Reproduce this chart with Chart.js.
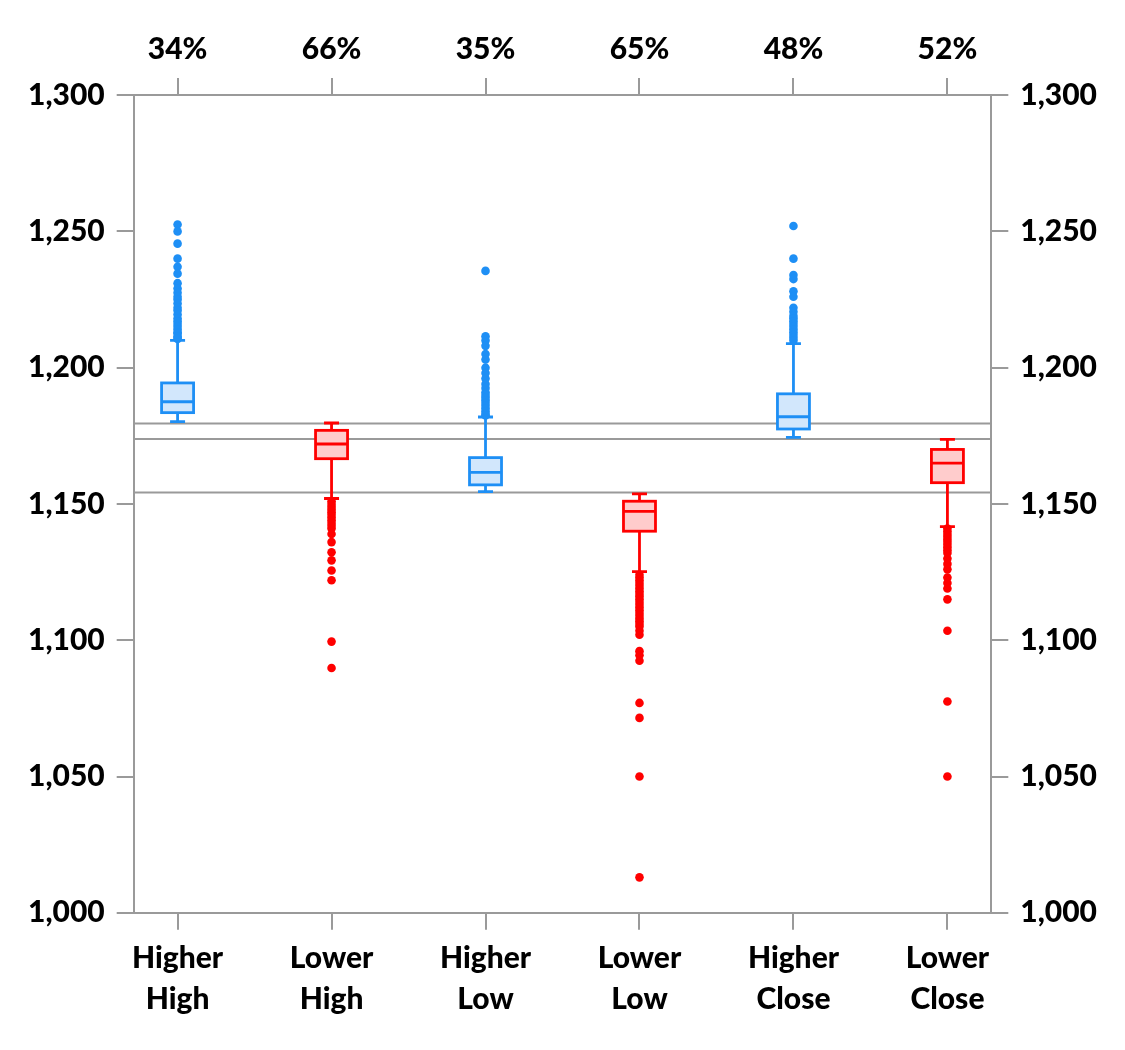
<!DOCTYPE html>
<html>
<head>
<meta charset="utf-8">
<script src="https://cdn.jsdelivr.net/npm/chart.js@4/dist/chart.umd.min.js"></script>
<style>
  body { margin: 0; background: #fff; }
  #wrap { width: 1125px; height: 1050px; }
</style>
</head>
<body>
<div id="wrap"><canvas id="chart_box"></canvas></div>
<script>
var categories = [["Higher", "High"], ["Lower", "High"], ["Higher", "Low"], ["Lower", "Low"], ["Higher", "Close"], ["Lower", "Close"]];
var shares = ["34%", "66%", "35%", "65%", "48%", "52%"];

// box statistics per category
var whiskerLow  = [1180.2, 1152.0, 1154.5, 1125.2, 1174.4, 1141.7];
var q1          = [1183.5, 1166.6, 1157.0, 1140.0, 1177.5, 1157.8];
var median      = [1187.5, 1172.0, 1161.6, 1147.3, 1182.0, 1165.0];
var q3          = [1194.4, 1177.0, 1167.0, 1151.0, 1190.4, 1170.0];
var whiskerHigh = [1210.0, 1179.7, 1181.9, 1153.7, 1208.8, 1173.7];

var outliers = [
  [1252.5, 1250, 1245.5, 1240, 1237, 1234.5, 1231, 1229, 1227.5, 1226, 1225, 1223.5, 1222, 1221, 1219.5, 1218, 1217, 1216, 1215, 1214, 1213, 1212.5, 1211.5, 1211, 1210.5],
  [1151, 1150, 1149, 1148, 1147, 1146, 1145, 1144, 1143, 1142, 1141, 1139, 1136, 1132.3, 1129.3, 1125.6, 1122, 1099.5, 1089.8],
  [1235.5, 1211.5, 1210, 1208, 1205, 1203, 1200, 1198, 1196, 1194, 1192.5, 1191, 1190, 1189, 1188, 1187, 1186, 1185, 1184, 1183, 1182.5],
  [1124, 1123, 1122, 1121, 1120, 1119, 1118, 1117, 1116, 1115, 1114, 1113, 1112, 1111, 1110, 1109, 1108, 1107, 1106, 1105, 1103.5, 1102, 1096, 1094.5, 1092.5, 1077, 1071.5, 1050, 1013],
  [1252, 1240, 1234, 1232.5, 1228, 1226, 1222, 1220.5, 1219, 1218, 1217, 1216, 1215, 1214, 1213, 1212, 1211, 1210],
  [1141, 1140, 1139, 1138, 1137, 1136, 1135, 1134, 1133, 1132, 1130, 1128, 1126, 1123, 1121, 1119, 1115, 1103.5, 1077.5, 1050]
];

// previous high / close / low reference levels
var refLines = [1179.5, 1173.8, 1154.2];

var yTicks = [1000, 1050, 1100, 1150, 1200, 1250, 1300];

const BLUE = "#1e8ff5", BLUE_FILL = "#d2e7fc";
const RED = "#ff0000", RED_FILL = "#ffcccc";
const GRAY = "#9a9a9a";
const colorOf = (i) => i % 2 === 0 ? BLUE : RED;
const fillOf = (i) => i % 2 === 0 ? BLUE_FILL : RED_FILL;

const pointsFor = (parity) => {
  var pts = [];
  outliers.forEach((list, i) => {
    if (i % 2 !== parity) return;
    list.forEach(v => pts.push({ x: i, y: v }));
  });
  return pts;
};

const boxPlugin = {
  id: "boxes",
  beforeDatasetsDraw(chart) {
    const ctx = chart.ctx, area = chart.chartArea;
    const x = chart.scales.x, y = chart.scales.y;
    ctx.save();
    ctx.strokeStyle = GRAY;
    ctx.lineWidth = 2;
    refLines.forEach(v => {
      var py = y.getPixelForValue(v);
      ctx.beginPath();
      ctx.moveTo(area.left, py);
      ctx.lineTo(area.right, py);
      ctx.stroke();
    });
    categories.forEach((c, i) => {
      var cx = x.getPixelForValue(i);
      var half = 16, cap = 7.5;
      var yLo = y.getPixelForValue(whiskerLow[i]);
      var yQ1 = y.getPixelForValue(q1[i]);
      var yMed = y.getPixelForValue(median[i]);
      var yQ3 = y.getPixelForValue(q3[i]);
      var yHi = y.getPixelForValue(whiskerHigh[i]);
      ctx.strokeStyle = colorOf(i);
      ctx.lineWidth = 2.8;
      // whiskers
      ctx.beginPath();
      ctx.moveTo(cx, yQ1); ctx.lineTo(cx, yLo);
      ctx.moveTo(cx, yQ3); ctx.lineTo(cx, yHi);
      ctx.moveTo(cx - cap, yLo); ctx.lineTo(cx + cap, yLo);
      ctx.moveTo(cx - cap, yHi); ctx.lineTo(cx + cap, yHi);
      ctx.stroke();
      // box
      ctx.fillStyle = fillOf(i);
      ctx.fillRect(cx - half, yQ3, half * 2, yQ1 - yQ3);
      ctx.strokeRect(cx - half, yQ3, half * 2, yQ1 - yQ3);
      ctx.beginPath();
      ctx.moveTo(cx - half, yMed); ctx.lineTo(cx + half, yMed);
      ctx.stroke();
    });
    ctx.restore();
  }
};

const FONT = { family: "Lato, 'Open Sans', sans-serif", size: 30, weight: "900", lineHeight: 1.37 };
const catTicks = (scale) => { scale.ticks = categories.map((c, i) => ({ value: i })); };
const axisGrid = { drawOnChartArea: false, drawTicks: true, tickLength: 17, color: GRAY, lineWidth: 2 };
const axisBorder = { display: true, color: GRAY, width: 2 };

const xAxis = (pos, labels) => ({
  type: "linear",
  position: pos,
  min: -0.285,
  max: 5.285,
  afterBuildTicks: catTicks,
  grid: axisGrid,
  border: axisBorder,
  ticks: {
    autoSkip: false,
    maxRotation: 0,
    color: "#000",
    font: FONT,
    padding: 8,
    callback: (v) => labels[v]
  }
});

const yAxis = (pos) => ({
  type: "linear",
  position: pos,
  min: 1000,
  max: 1300,
  afterBuildTicks: (scale) => { scale.ticks = yTicks.map(v => ({ value: v })); },
  grid: axisGrid,
  border: axisBorder,
  ticks: {
    color: "#000",
    font: FONT,
    padding: 12,
    callback: (v) => v.toLocaleString("en-US")
  }
});

var ctx = document.getElementById("chart_box").getContext("2d");
var boxChart = new Chart(ctx, {
  type: "scatter",
  data: {
    datasets: [
      { label: "Higher", data: pointsFor(0), backgroundColor: BLUE, borderWidth: 0, pointRadius: 4.3, xAxisID: "x", yAxisID: "y" },
      { label: "Lower", data: pointsFor(1), backgroundColor: RED, borderWidth: 0, pointRadius: 4.3, xAxisID: "x", yAxisID: "y" }
    ]
  },
  options: {
    responsive: true,
    maintainAspectRatio: false,
    animation: false,
    layout: { padding: { left: 16, right: 16, top: 21, bottom: 22 } },
    plugins: { legend: { display: false }, tooltip: { enabled: false } },
    scales: {
      x: xAxis("bottom", categories),
      x2: xAxis("top", shares),
      y: yAxis("left"),
      y2: yAxis("right")
    }
  },
  plugins: [boxPlugin]
});
</script>
</body>
</html>
